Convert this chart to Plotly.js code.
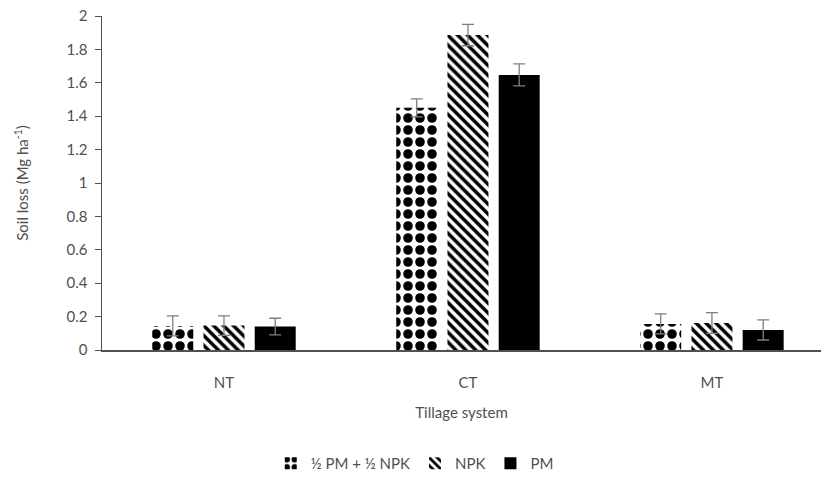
<!DOCTYPE html>
<html>
<head>
<meta charset="utf-8">
<script src="https://cdn.plot.ly/plotly-3.0.1.min.js"></script>
<style>html,body{margin:0;padding:0;background:#fff;}#chart{width:821px;height:488px;}</style>
</head>
<body>
<div id="chart"></div>
<script>
const categories = ["NT", "CT", "MT"];
const seriesNames = ["½ PM + ½ NPK", "NPK", "PM"];
const halfPmValues = [0.144, 1.45, 0.156];
const halfPmErrors = [0.06, 0.054, 0.06];
const npkValues = [0.146, 1.886, 0.162];
const npkErrors = [0.058, 0.064, 0.062];
const pmValues = [0.14, 1.647, 0.12];
const pmErrors = [0.05, 0.066, 0.06];
const yTickVals = [0, 0.2, 0.4, 0.6, 0.8, 1, 1.2, 1.4, 1.6, 1.8, 2];
const yTickText = ["0", "0.2", "0.4", "0.6", "0.8", "1", "1.2", "1.4", "1.6", "1.8", "2"];

const font = "Lato, 'Open Sans', sans-serif";
const txtColor = "#505050";
const errStyle = {type: "data", visible: true, color: "#7f7f7f", thickness: 1.3, width: 6};

function bar(name, vals, errs, pattern) {
  return {
    type: "bar", name: name, x: categories, y: vals,
    error_y: Object.assign({array: errs}, errStyle),
    marker: {color: "#000000", line: {width: 0}, pattern: pattern}
  };
}

const data = [
  bar(seriesNames[0], halfPmValues, halfPmErrors, {shape: ".", size: 12, solidity: 0.5, fgcolor: "#000000", bgcolor: "#ffffff", fillmode: "replace"}),
  bar(seriesNames[1], npkValues, npkErrors, {shape: "\\", size: 7, solidity: 0.5, fgcolor: "#000000", bgcolor: "#ffffff", fillmode: "replace"}),
  bar(seriesNames[2], pmValues, pmErrors, {shape: ""})
];

const layout = {
  width: 821, height: 488,
  margin: {l: 102, r: 0, t: 16, b: 138},
  paper_bgcolor: "#ffffff", plot_bgcolor: "#ffffff",
  font: {family: font, size: 15, color: txtColor},
  barmode: "group", bargap: 0.37, bargroupgap: 0.2,
  showlegend: true,
  legend: {orientation: "h", x: 0.435, xanchor: "center", y: -0.34, yanchor: "middle",
           font: {family: font, size: 15, color: txtColor}, itemwidth: 30, traceorder: "normal"},
  xaxis: {
    type: "category", range: [-0.5, 2.447],
    showline: true, linecolor: "#505050", linewidth: 1.5,
    ticks: "", showgrid: false, zeroline: false, ticklabelstandoff: 18,
    tickfont: {family: font, size: 15, color: txtColor},
    title: {text: "Tillage system", font: {family: font, size: 15, color: txtColor}, standoff: 18}
  },
  yaxis: {
    range: [0, 2], tickvals: yTickVals, ticktext: yTickText,
    showline: true, linecolor: "#505050", linewidth: 1.5,
    ticks: "outside", ticklen: 6, tickcolor: "#505050", ticklabelstandoff: 4,
    showgrid: false, zeroline: false,
    tickfont: {family: font, size: 15, color: txtColor},
    title: {text: "Soil loss (Mg ha<sup>-1</sup>)", font: {family: font, size: 15, color: txtColor}, standoff: 34}
  }
};

Plotly.newPlot("chart", data, layout, {displayModeBar: false, staticPlot: true});
</script>
</body>
</html>
